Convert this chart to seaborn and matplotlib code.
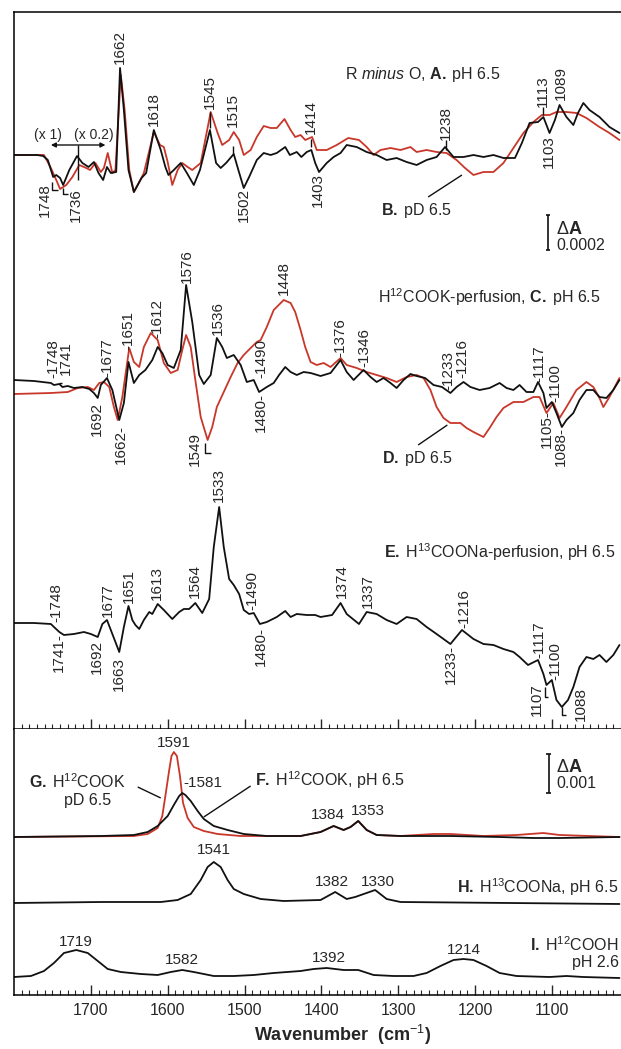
import numpy as np
import pandas as pd
import seaborn as sns
import matplotlib
matplotlib.use("Agg")
import matplotlib.pyplot as plt

# ---------------- data ----------------
# wavenumbers in cm-1, signal in arbitrary absorbance units
# (top panel: 35 units = 0.0002 dA ; bottom panel: 40 units = 0.001 dA)
A_wn = [1800,1770,1762,1756,1749,1745,1740,1736,1728,1718,1711,1703,1696,1690,1684,1679,1674,1667,1662,1657,
        1651,1644,1639,1634,1628,1618,1609,1603,1599,1592,1583,1575,1566,1558,1545,1537,1531,1524,1514,1508,
        1501,1494,1484,1475,1466,1458,1447,1441,1432,1426,1419,1413,1408,1403,1393,1384,1375,1367,1354,1341,
        1328,1315,1302,1289,1276,1263,1250,1239,1228,1215,1202,1189,1176,1163,1148,1139,1129,1118,1111,1103,
        1096,1090,1081,1072,1066,1059,1051,1038,1025,1012]
A_val = [0,0,-1,-5,-22,-20,-23,-30,-15,-1,-8,-12,-7,-18,-25,-12,-18,-17,87,45,
         -15,-37,-30,-23,-18,25,5,-12,-20,-15,-8,-18,-30,-15,25,-8,-13,-8,1,-15,
         -33,-22,-5,2,0,2,8,0,3,-2,3,5,-8,-17,-8,-2,2,10,8,3,
         0,-5,-3,-7,-10,-5,-2,8,-2,-2,0,-2,0,-3,-3,12,32,33,38,22,
         35,50,38,30,42,52,45,38,28,22]

B_wn = [1800,1761,1752,1745,1740,1732,1724,1715,1706,1701,1694,1687,1683,1678,1672,1668,1661,1656,1650,1644,
        1637,1631,1618,1610,1605,1600,1594,1587,1581,1574,1568,1557,1544,1535,1529,1520,1514,1507,1501,1492,
        1484,1475,1466,1458,1448,1440,1434,1427,1421,1412,1406,1393,1380,1365,1351,1341,1332,1323,1310,1297,
        1284,1276,1263,1250,1237,1224,1213,1202,1189,1176,1163,1150,1137,1124,1113,1103,1094,1081,1068,1055,
        1038,1025,1012]
B_val = [0,0,-13,-25,-34,-30,-22,-10,-13,-15,-8,-17,-13,2,-18,-15,80,45,-15,-37,
         -27,-18,23,10,8,-7,-30,-15,-8,-12,-15,-8,43,22,10,15,23,15,0,5,
         18,29,27,27,36,25,18,20,15,18,5,5,10,17,15,8,0,5,7,5,
         8,3,5,3,2,-5,-13,-20,-17,-17,-8,7,22,33,40,40,43,43,42,37,
         28,22,15]

C_wn = [1800,1774,1752,1748,1741,1737,1730,1722,1711,1702,1696,1691,1687,1679,1672,1663,1657,1651,1644,1637,
        1629,1620,1613,1607,1600,1592,1583,1576,1568,1559,1553,1544,1536,1529,1523,1514,1505,1497,1488,1481,
        1471,1462,1455,1447,1440,1432,1423,1414,1401,1388,1375,1367,1358,1349,1345,1336,1328,1319,1310,1302,
        1293,1284,1276,1265,1254,1243,1232,1224,1215,1206,1194,1181,1168,1159,1150,1142,1133,1124,1118,1111,
        1107,1100,1094,1087,1081,1072,1064,1055,1046,1038,1029,1020,1012]
C_val = [0,-1,-3,-5,-4,-7,-6,-8,-7,-9,-13,-18,-5,2,-10,-40,-23,18,-3,5,
         10,20,33,27,15,12,30,95,58,5,-4,5,42,33,22,25,15,-2,0,-12,
         -7,-3,5,13,8,5,8,7,4,7,20,8,0,7,10,3,-2,2,-3,-8,
         0,6,4,2,-5,-7,-13,-7,-2,-7,-10,-8,-3,-8,-10,-5,-12,-12,-2,-13,
         -28,-22,-33,-47,-40,-33,-20,-10,-10,-17,-18,-10,0]

D_wn = [1800,1752,1730,1717,1704,1696,1689,1683,1676,1670,1665,1659,1650,1644,1637,1631,1622,1613,1605,1596,
        1587,1581,1576,1570,1564,1557,1548,1542,1536,1527,1518,1509,1501,1492,1484,1479,1471,1462,1449,1440,
        1434,1427,1421,1414,1406,1397,1388,1375,1367,1354,1341,1328,1315,1302,1289,1276,1267,1258,1250,1241,
        1232,1219,1211,1202,1189,1181,1172,1163,1150,1137,1124,1116,1107,1098,1090,1081,1068,1055,1046,1038,
        1033,1025,1012]
D_val = [-14,-13,-12,-8,-7,-10,-3,-2,-7,-27,-40,-17,32,18,13,33,47,40,17,7,
         10,30,45,33,0,-37,-60,-47,-27,-12,3,17,25,32,38,40,53,70,80,77,
         68,50,33,18,15,17,13,22,15,12,8,5,2,-2,3,5,2,-10,-27,-38,
         -43,-43,-48,-52,-57,-48,-37,-28,-22,-22,-17,-17,-33,-23,-38,-27,-10,-2,-7,-18,
         -27,-17,2]

E_wn = [1800,1774,1752,1748,1741,1735,1722,1709,1700,1691,1685,1679,1672,1663,1657,1651,1646,1642,1637,1631,
        1624,1620,1613,1605,1594,1585,1579,1572,1564,1555,1546,1540,1533,1527,1520,1514,1507,1501,1494,1488,
        1480,1471,1458,1447,1440,1432,1419,1408,1401,1386,1375,1367,1351,1341,1328,1315,1302,1289,1276,1263,
        1250,1232,1217,1202,1189,1176,1163,1150,1142,1131,1118,1111,1107,1100,1094,1087,1079,1072,1064,1055,
        1046,1038,1029,1020,1012]
E_val = [0,0,-1,-4,-9,-12,-11,-9,-11,-14,-1,3,-11,-29,-4,17,3,-2,-6,3,
         11,9,19,13,4,11,14,14,20,10,24,76,116,76,44,38,29,13,9,10,
         -1,1,6,12,6,9,8,8,6,8,20,9,-1,11,9,3,-1,6,4,-4,
         -11,-21,-7,-16,-21,-22,-26,-29,-34,-42,-37,-51,-62,-57,-77,-84,-77,-64,-44,-34,
         -36,-32,-39,-32,-22]

F_wn = [1800,1687,1644,1626,1613,1600,1592,1585,1581,1577,1570,1561,1553,1540,1522,1501,1471,1427,1401,1384,
        1371,1362,1352,1341,1328,1297,1232,1168,1124,1090,1012]
F_val = [0,1,2,5,11,21,32,41,44,42,36,26,18,11,7,3,1,1,5,11,7,10,16,7,2,1,1,0,-1,-1,0]

G_wn = [1800,1644,1626,1613,1607,1603,1598,1595,1592,1588,1584,1580,1574,1566,1553,1535,1505,1471,1427,1401,
        1384,1371,1362,1352,1341,1328,1297,1254,1232,1189,1146,1111,1090,1012]
G_val = [0,1,3,9,21,41,67,81,85,81,61,34,19,10,6,3,1,1,1,5,11,7,10,16,7,2,1,3,3,1,2,4,2,0]

H_wn = [1800,1687,1609,1587,1570,1557,1548,1540,1531,1522,1514,1501,1479,1449,1401,1382,1367,1356,1330,1315,
        1297,1012]
H_val = [0,1,1,3,9,23,36,41,36,23,14,9,4,2,3,11,4,6,13,4,1,-1]

I_wn = [1800,1778,1761,1748,1735,1719,1704,1691,1678,1661,1635,1613,1596,1581,1566,1540,1514,1488,1462,1427,
        1410,1393,1371,1352,1332,1306,1280,1263,1245,1228,1215,1202,1185,1168,1146,1103,1081,1059,1012]
I_val = [0,1,6,14,24,27,24,16,8,5,3,2,5,7,5,1,1,2,4,6,8,9,7,7,2,1,1,4,11,17,18,17,11,4,1,0,1,0,-1]

x_ticks = [1700, 1600, 1500, 1400, 1300, 1200, 1100]

# ---------------- style ----------------
sns.set_style("ticks")
plt.rcParams["font.family"] = ["Liberation Sans", "DejaVu Sans"]
plt.rcParams["mathtext.fontset"] = "custom"
plt.rcParams["mathtext.rm"] = "Liberation Sans"
plt.rcParams["mathtext.it"] = "Liberation Sans:italic"
plt.rcParams["mathtext.bf"] = "Liberation Sans:bold"

BLACK = "#111111"
RED = "#c8372a"
LW = 1.3
FS = 11

fig = plt.figure(figsize=(6.21, 10.49), dpi=100)
ax1 = fig.add_axes([14 / 621, 1 - 729 / 1049, 607 / 621, 717 / 1049])
ax2 = fig.add_axes([14 / 621, 1 - 995 / 1049, 607 / 621, 266 / 1049])

def trace(ax, wn, val, offset, color):
    df = pd.DataFrame({"wn": wn, "v": np.asarray(val, float) + offset})
    sns.lineplot(data=df, x="wn", y="v", ax=ax, color=color, lw=LW,
                 sort=False, estimator=None, legend=False)

# top panel traces
trace(ax1, B_wn, B_val, 574, RED)
trace(ax1, A_wn, A_val, 574, BLACK)
trace(ax1, D_wn, D_val, 349, RED)
trace(ax1, C_wn, C_val, 349, BLACK)
trace(ax1, E_wn, E_val, 106, BLACK)
# bottom panel traces
trace(ax2, G_wn, G_val, 158, RED)
trace(ax2, F_wn, F_val, 158, BLACK)
trace(ax2, H_wn, H_val, 92, BLACK)
trace(ax2, I_wn, I_val, 18, BLACK)

for ax, top in ((ax1, 717), (ax2, 266)):
    ax.set_xlim(1800, 1010)
    ax.set_ylim(0, top)
    ax.set_yticks([])
    ax.set_ylabel("")
    ax.set_xlabel("")
    ax.set_xticks(x_ticks)
    ax.set_xticks(np.arange(1010, 1800, 10), minor=True)
    ax.tick_params(axis="x", which="major", direction="in", length=7, width=1.0, top=False)
    ax.tick_params(axis="x", which="minor", direction="in", length=3.5, width=0.8, top=False)
    ax.spines["right"].set_visible(False)
    for s in ("left", "top", "bottom"):
        ax.spines[s].set_linewidth(1.1)
        ax.spines[s].set_color("black")

ax1.tick_params(axis="x", labelbottom=False)
ax2.spines["top"].set_visible(False)
ax2.tick_params(axis="x", which="major", labelsize=11.5, pad=6)
ax2.set_xlabel("Wavenumber  (cm$^{-1}$)", fontsize=13, fontweight="bold")
ax2.xaxis.set_label_coords((343 - 14) / 607, -0.105)

# ---------------- annotations ----------------
def vl(ax, items, va, fs=FS):
    for s, x, y in items:
        ax.text(x, y, s, rotation=90, ha="center", va=va, fontsize=fs)

def seg(ax, xs, ys, lw=1.0):
    ax.plot(xs, ys, color=BLACK, lw=lw, solid_capstyle="butt")

SP = r"\;"

# A / B
vl(ax1, [("1662", 1662, 665), ("1618", 1618, 603), ("1545", 1545, 620), ("1515", 1515, 602),
         ("1414", 1414, 595), ("1238", 1238, 589), ("1113", 1112, 622), ("1089", 1088, 629)], "bottom")
vl(ax1, [("1748", 1760, 546), ("1736", 1719, 541), ("1502", 1501, 541), ("1403", 1404, 556),
         ("1103", 1104, 594)], "top")
for x, y0, y1 in [(1545, 601, 617), (1515, 575, 583), (1414, 582, 590), (1238, 579, 589), (1112, 614, 622)]:
    seg(ax1, [x, x], [y0, y1])
seg(ax1, [1750, 1750, 1743], [547, 539, 539])
seg(ax1, [1736, 1736, 1730], [541, 535, 535])
ax1.annotate("", xy=(1681, 584), xytext=(1752, 584),
             arrowprops=dict(arrowstyle="<|-|>", color=BLACK, lw=1.0, mutation_scale=7,
                             shrinkA=0, shrinkB=0))
seg(ax1, [1717, 1717], [584, 549])
ax1.text(1756, 594, "(x 1)", ha="center", va="center", fontsize=10)
ax1.text(1696, 594, "(x 0.2)", ha="center", va="center", fontsize=10)
ax1.text(1369, 654, r"R $\mathit{minus}$ O, $\mathbf{A.}" + SP + "$pH 6.5", ha="left", va="center", fontsize=11.5)
ax1.text(1323, 518, r"$\mathbf{B.}" + SP + "$pD 6.5", ha="left", va="center", fontsize=11.5)
seg(ax1, [1261, 1217], [532, 554])
# scale bar 0.0002
seg(ax1, [1105, 1105], [479, 514], lw=1.2)
seg(ax1, [1108, 1102], [514, 514], lw=1.2)
seg(ax1, [1108, 1102], [479, 479], lw=1.2)
ax1.text(1094, 500, r"$\Delta$A", ha="left", va="center", fontsize=13, fontweight="bold")
ax1.text(1094, 483, "0.0002", ha="left", va="center", fontsize=11.5)

# C / D
vl(ax1, [("-1748", 1749, 351), ("1741", 1732, 354), ("-1677", 1678, 352), ("-1651", 1651, 379),
         ("-1612", 1613, 391), ("1576", 1575, 446), ("1536", 1535, 394), ("1448", 1449, 434),
         ("-1490", 1478, 351), ("-1376", 1375, 372), ("-1346", 1344, 362), ("-1233", 1235, 339),
         ("-1216", 1216, 351), ("-1117", 1116, 347), ("-1100", 1096, 327)], "bottom")
seg(ax1, [1741, 1737], [346, 346])
vl(ax1, [("1692", 1692, 327), ("1662-", 1661, 304), ("1549", 1565, 297), ("1480-", 1479, 336),
         ("1105-", 1106, 319), ("1088-", 1088, 302)], "top")
seg(ax1, [1551, 1551, 1544], [286, 276, 276])
ax1.text(1326, 432, r"H$^{12}$COOK-perfusion, $\mathbf{C.}" + SP + "$pH 6.5", ha="left", va="center", fontsize=11.5)
ax1.text(1321, 271, r"$\mathbf{D.}" + SP + "$pD 6.5", ha="left", va="center", fontsize=11.5)
seg(ax1, [1274, 1236], [284, 304])

# E
vl(ax1, [("-1748", 1745, 107), ("1677", 1678, 112), ("1651", 1651, 126), ("1613", 1614, 129),
         ("1564", 1564, 131), ("1533", 1534, 227), ("-1490", 1490, 119), ("1374", 1373, 131),
         ("1337", 1339, 121), ("-1216", 1214, 101), ("-1117", 1116, 71), ("-1100", 1096, 49)], "bottom")
vl(ax1, [("1741-", 1742, 96), ("1692", 1692, 89), ("1663", 1664, 72), ("1480-", 1479, 102),
         ("1233-", 1232, 84), ("1107", 1119, 46), ("1088", 1062, 42)], "top")
seg(ax1, [1109, 1109, 1105], [42, 32, 32])
seg(ax1, [1087, 1087, 1081], [22, 14, 14])
ax1.text(1319, 177, r"$\mathbf{E.}" + SP + "$H$^{13}$COONa-perfusion, pH 6.5", ha="left", va="center", fontsize=11.5)

# bottom panel
for s, x, y in [("1591", 1592, 252), ("1384", 1392, 180), ("1353", 1340, 184), ("1541", 1540, 145),
                ("1382", 1386, 113), ("1330", 1326, 113), ("1719", 1719, 53), ("1582", 1581, 35),
                ("1392", 1390, 37), ("1214", 1215, 45)]:
    ax2.text(x, y, s, ha="center", va="center", fontsize=FS)
ax2.text(1579, 212, "-1581", ha="left", va="center", fontsize=FS)
ax2.text(1781, 213, r"$\mathbf{G.}" + SP + "$H$^{12}$COOK", ha="left", va="center", fontsize=11.5)
ax2.text(1704, 195, "pD 6.5", ha="center", va="center", fontsize=11.5)
seg(ax2, [1639, 1609], [208, 197])
ax2.text(1486, 215, r"$\mathbf{F.}" + SP + "$H$^{12}$COOK, pH 6.5", ha="left", va="center", fontsize=11.5)
seg(ax2, [1492, 1553], [209, 178])
ax2.text(1013, 108, r"$\mathbf{H.}" + SP + "$H$^{13}$COONa, pH 6.5", ha="right", va="center", fontsize=11.5)
ax2.text(1013, 50, r"$\mathbf{I.}" + SP + "$H$^{12}$COOH", ha="right", va="center", fontsize=11.5)
ax2.text(1013, 32, "pH 2.6", ha="right", va="center", fontsize=11.5)
# scale bar 0.001
seg(ax2, [1104, 1104], [202, 241], lw=1.2)
seg(ax2, [1107, 1101], [241, 241], lw=1.2)
seg(ax2, [1107, 1101], [202, 202], lw=1.2)
ax2.text(1094, 227, r"$\Delta$A", ha="left", va="center", fontsize=13, fontweight="bold")
ax2.text(1094, 211, "0.001", ha="left", va="center", fontsize=11.5)

fig.savefig("out.png", dpi=100)
